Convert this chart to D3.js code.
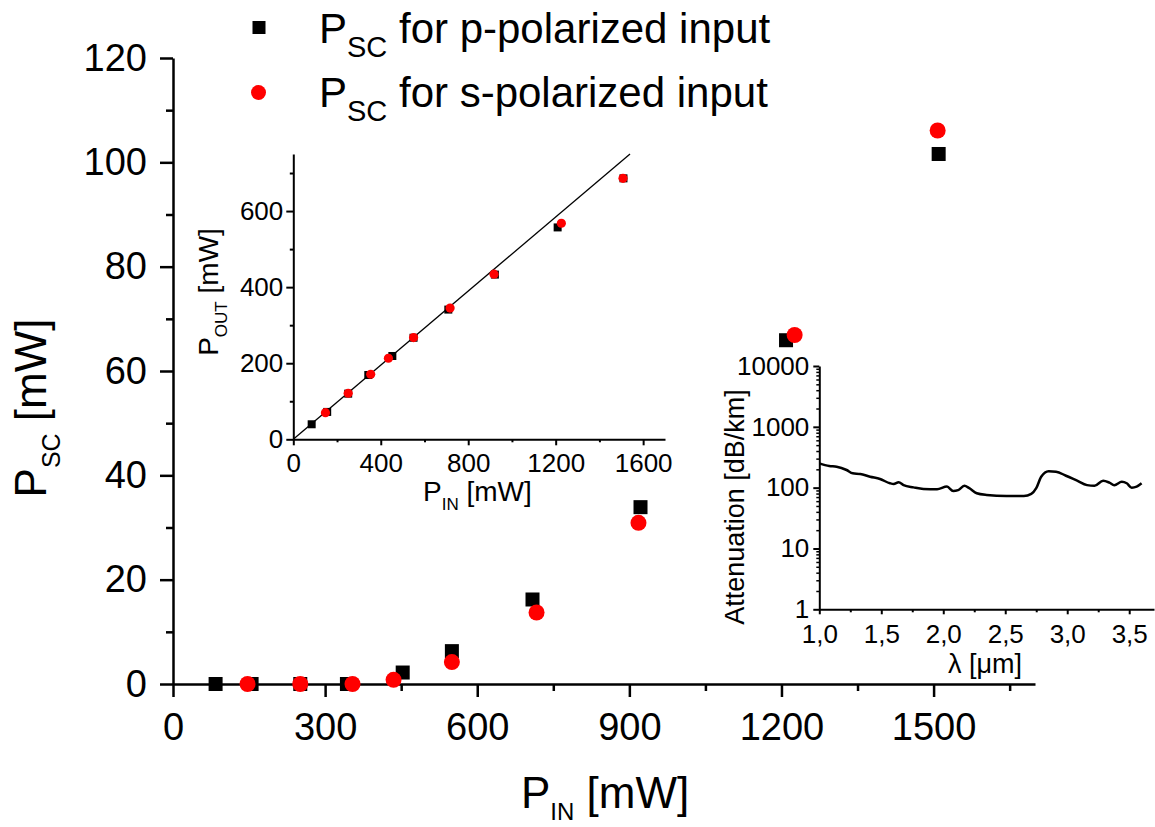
<!DOCTYPE html>
<html><head><meta charset="utf-8">
<script src="https://cdn.jsdelivr.net/npm/d3@7"></script>
<style>
body{margin:0;background:#fff}
svg text{font-family:"Liberation Sans",Arial,sans-serif;fill:#000}
</style>
</head><body>
<svg id="c" width="1155" height="827"></svg>
<script>
// ---- Main chart data: P_SC vs P_IN ----
const pIn  = [84, 155, 251, 343, 453, 550, 709, 922, 1209, 1510];
const pSC  = [0, 0, 0, 0, 2.2, 6.3, 16.2, 33.9, 65.9, 101.6];
const sIn  = [147, 251, 354, 435, 550, 717, 918, 1226, 1508];
const sSC  = [0, 0, 0, 0.8, 4.2, 13.7, 30.9, 66.9, 106.1];
// ---- Inset 1: P_OUT vs P_IN ----
const pOut = [39.5, 72, 120, 169, 219, 267, 341, 433, 557, 686];
const sOut = [70, 121, 171, 213, 267.5, 345, 434, 568, 686];
const fitSlope = 0.487;
// ---- Inset 2: attenuation spectrum ----
const lambda = [1.0,1.08,1.14,1.22,1.27,1.33,1.41,1.49,1.57,1.60,1.64,1.68,1.76,1.84,1.95,2.03,2.08,2.12,2.17,2.21,2.27,2.35,2.51,2.65,2.71,2.75,2.79,2.85,2.91,2.99,3.08,3.16,3.22,3.29,3.34,3.38,3.44,3.48,3.52,3.56,3.60];
const atten  = [251,227,221,195,172,168,151,139,118,115,123,110,101,95,94,104,88,91,107,98,81,76,73,73,79,98,151,186,183,157,130,110,107,130,121,110,125,118,100,104,118];
// ---- Ticks ----
const mainXTicks = [0,300,600,900,1200,1500];
const mainXMinor = [150,450,750,1050,1350,1650];
const mainYTicks = [0,20,40,60,80,100,120];
const mainYMinor = [10,30,50,70,90,110];
const in1XTicks = [0,400,800,1200,1600];
const in1XMinor = [200,600,1000,1400];
const in1YTicks = [0,200,400,600];
const in1YMinor = [100,300,500,700];
const in2XTicks = [1.0,1.5,2.0,2.5,3.0,3.5];
const in2XLabels = ["1,0","1,5","2,0","2,5","3,0","3,5"];
const in2XMinor = [1.25,1.75,2.25,2.75,3.25];
const in2YTicks = [1,10,100,1000,10000];
const legendLabels = ["for p-polarized input","for s-polarized input"];

const svg = d3.select("#c");
const FONT = '"Liberation Sans",Arial,sans-serif';

function styleAxis(g, sw, fs){
  g.selectAll("path.domain").attr("stroke","#000").attr("stroke-width",sw);
  g.selectAll(".tick line").attr("stroke","#000").attr("stroke-width",sw);
  g.selectAll(".tick text").attr("font-size",fs).attr("font-family",FONT).attr("fill","#000");
  g.attr("font-family",FONT);
}
function subLabel(parent, x, y, rot, main, sub, rest, fs, sfs, shift, anchor){
  const t = parent.append("text").attr("font-size",fs).attr("text-anchor",anchor||"middle")
    .attr("transform",`translate(${x},${y}) rotate(${rot})`);
  t.append("tspan").text(main);
  t.append("tspan").attr("font-size",sfs).attr("dy",shift).text(sub);
  t.append("tspan").attr("dy",-shift).text(rest);
  return t;
}

// ================= MAIN =================
const x = d3.scaleLinear([0,1700],[173,1035]);
const y = d3.scaleLinear([0,120],[684,58]);

const gx = svg.append("g").attr("transform",`translate(0,${y(0)})`)
  .call(d3.axisBottom(x).tickValues(mainXTicks).tickSize(13).tickSizeOuter(0).tickPadding(16).tickFormat(d3.format("d")));
styleAxis(gx,2.5,38);
const gxm = svg.append("g").attr("transform",`translate(0,${y(0)})`)
  .call(d3.axisBottom(x).tickValues(mainXMinor).tickSize(7).tickFormat(""));
gxm.select("path.domain").remove(); styleAxis(gxm,2.5,38);

const gy = svg.append("g").attr("transform",`translate(${x(0)},0)`)
  .call(d3.axisLeft(y).tickValues(mainYTicks).tickSize(13).tickSizeOuter(0).tickPadding(13));
styleAxis(gy,2.5,38);
const gym = svg.append("g").attr("transform",`translate(${x(0)},0)`)
  .call(d3.axisLeft(y).tickValues(mainYMinor).tickSize(7).tickFormat(""));
gym.select("path.domain").remove(); styleAxis(gym,2.5,38);

subLabel(svg, 46, 408, -90, "P", "SC", " [mW]", 44, 25, 14);
subLabel(svg, 521, 808, 0, "P", "IN", " [mW]", 44, 24, 12, "start");

const pData = pIn.map((v,i)=>({x:v,y:pSC[i]}));
const sData = sIn.map((v,i)=>({x:v,y:sSC[i]}));
svg.append("g").selectAll("rect").data(pData).join("rect")
  .attr("x",d=>x(d.x)-7).attr("y",d=>y(d.y)-7).attr("width",14).attr("height",14).attr("fill","#000");
svg.append("g").selectAll("circle").data(sData).join("circle")
  .attr("cx",d=>x(d.x)).attr("cy",d=>y(d.y)).attr("r",8).attr("fill","#ff0000");

// legend
const leg = svg.append("g");
leg.append("rect").attr("x",252.5).attr("y",21).attr("width",13).attr("height",13).attr("fill","#000");
leg.append("circle").attr("cx",258.5).attr("cy",92.5).attr("r",7.5).attr("fill","#ff0000");
subLabel(leg, 319, 43, 0, "P", "SC", " "+legendLabels[0], 42, 29, 14, "start");
subLabel(leg, 319, 107, 0, "P", "SC", " "+legendLabels[1], 42, 29, 14, "start");

// ================= INSET 1 =================
const xi = d3.scaleLinear([0,1700],[293.3,665]);
const yi = d3.scaleLinear([0,750],[439.3,154]);
const g1 = svg.append("g");
const g1x = g1.append("g").attr("transform",`translate(0,${yi(0)})`)
  .call(d3.axisBottom(xi).tickValues(in1XTicks).tickSize(6).tickSizeOuter(0).tickPadding(8).tickFormat(d3.format("d")));
styleAxis(g1x,2,26);
const g1xm = g1.append("g").attr("transform",`translate(0,${yi(0)})`)
  .call(d3.axisBottom(xi).tickValues(in1XMinor).tickSize(3).tickFormat(""));
g1xm.select("path.domain").remove(); styleAxis(g1xm,2,26);
const g1y = g1.append("g").attr("transform",`translate(${xi(0)},0)`)
  .call(d3.axisLeft(yi).tickValues(in1YTicks).tickSize(7).tickSizeOuter(0).tickPadding(3).tickFormat(d3.format("d")));
styleAxis(g1y,2,26);
const g1ym = g1.append("g").attr("transform",`translate(${xi(0)},0)`)
  .call(d3.axisLeft(yi).tickValues(in1YMinor).tickSize(3.5).tickFormat(""));
g1ym.select("path.domain").remove(); styleAxis(g1ym,2,26);

const fitEnd = 750/fitSlope;
g1.append("line").attr("x1",xi(0)).attr("y1",yi(0)).attr("x2",xi(fitEnd)).attr("y2",yi(fitSlope*fitEnd))
  .attr("stroke","#000").attr("stroke-width",1.3);
g1.append("g").selectAll("rect").data(pIn.map((v,i)=>({x:v,y:pOut[i]}))).join("rect")
  .attr("x",d=>xi(d.x)-4).attr("y",d=>yi(d.y)-4).attr("width",8).attr("height",8).attr("fill","#000");
g1.append("g").selectAll("circle").data(sIn.map((v,i)=>({x:v,y:sOut[i]}))).join("circle")
  .attr("cx",d=>xi(d.x)).attr("cy",d=>yi(d.y)).attr("r",4.6).attr("fill","#ff0000");
subLabel(g1, 218, 292, -90, "P", "OUT", " [mW]", 28, 17, 9);
subLabel(g1, 423, 501, 0, "P", "IN", " [mW]", 28, 17, 9, "start");

// ================= INSET 2 =================
const xa = d3.scaleLinear([1,3.7],[819.3,1154]);
const ya = d3.scaleLog([1,10000],[609.3,366]);
const g2 = svg.append("g");
const g2x = g2.append("g").attr("transform",`translate(0,${ya(1)})`)
  .call(d3.axisBottom(xa).tickValues(in2XTicks).tickSize(5).tickSizeOuter(0).tickPadding(10)
  .tickFormat((d,i)=>in2XLabels[i]));
styleAxis(g2x,2,26);
const g2xm = g2.append("g").attr("transform",`translate(0,${ya(1)})`)
  .call(d3.axisBottom(xa).tickValues(in2XMinor).tickSize(3).tickFormat(""));
g2xm.select("path.domain").remove(); styleAxis(g2xm,2,26);
const g2y = g2.append("g").attr("transform",`translate(${xa(1)},0)`)
  .call(d3.axisLeft(ya).tickValues(in2YTicks).tickSize(6).tickSizeOuter(0).tickPadding(4).tickFormat(d3.format("d")));
styleAxis(g2y,2,26);
const minorLog = [];
for (let dec=1; dec<10000; dec*=10) for (let k=2;k<=9;k++) minorLog.push(dec*k);
const g2ym = g2.append("g").attr("transform",`translate(${xa(1)},0)`)
  .call(d3.axisLeft(ya).tickValues(minorLog).tickSize(3).tickFormat(""));
g2ym.select("path.domain").remove(); styleAxis(g2ym,1.5,26);

g2.append("path").datum(lambda.map((l,i)=>[l,atten[i]]))
  .attr("d", d3.line().x(d=>xa(d[0])).y(d=>ya(d[1])).curve(d3.curveMonotoneX))
  .attr("fill","none").attr("stroke","#000").attr("stroke-width",2.5);
g2.append("text").attr("font-size",27).attr("text-anchor","middle")
  .attr("transform","translate(744,507) rotate(-90)").text("Attenuation [dB/km]");
g2.append("text").attr("font-size",27).attr("text-anchor","middle")
  .attr("x",985).attr("y",673).text("λ [μm]");
</script>
</body></html>
